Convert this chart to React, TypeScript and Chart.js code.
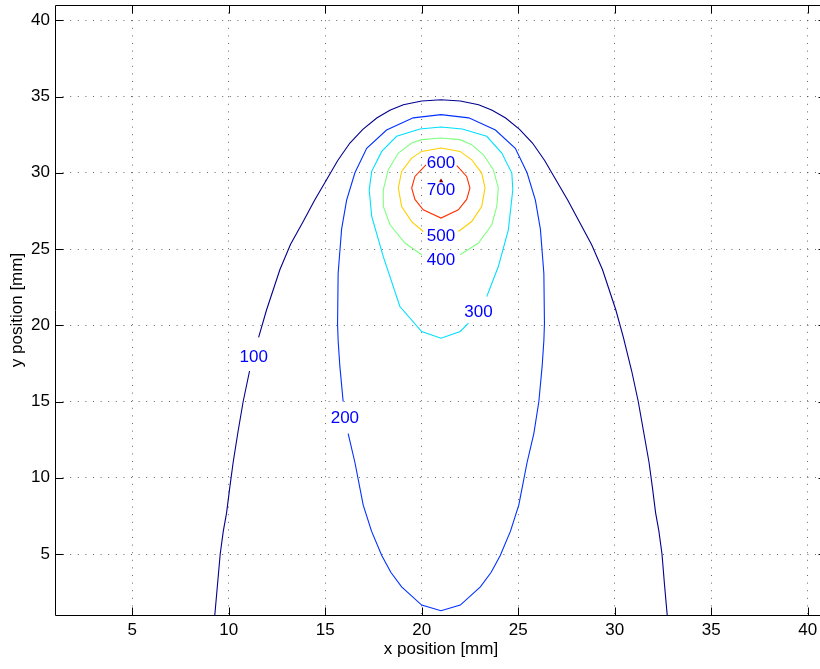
import React, { useEffect, useRef } from 'react';
import { Chart, registerables } from 'chart.js';

Chart.register(...registerables);

// ---- data ----
const contourLevels = [100, 200, 300, 400, 500, 600, 700];

const contour100Left: [number, number][] = [
  [9.28, 1.0], [9.42, 3.0], [9.56, 5.0], [9.72, 6.5], [9.89, 7.7], [10.05, 9.3],
  [10.23, 11.0], [10.48, 13.0], [10.75, 15.0], [11.08, 17.0],
];
const contour100Right: [number, number][] = [
  [11.55, 19.2], [11.96, 21.0], [12.65, 23.64], [13.2, 25.3], [13.86, 26.8], [14.45, 28.2],
  [15.07, 29.54], [15.65, 30.8], [16.28, 31.95], [16.95, 32.85], [17.67, 33.59], [18.35, 34.1],
  [19.05, 34.46], [20.0, 34.7], [21.0, 34.79], [22.0, 34.7], [22.95, 34.46], [23.65, 34.1],
  [24.35, 33.59], [25.07, 32.85], [25.74, 31.95], [26.37, 30.8], [26.95, 29.54], [27.57, 28.2],
  [28.16, 26.8], [28.8, 25.3], [29.37, 23.64], [30.06, 21.0], [30.45, 19.2], [30.88, 17.0],
  [31.22, 15.0], [31.5, 13.0], [31.78, 11.0], [31.96, 9.3], [32.12, 7.7], [32.29, 6.5],
  [32.45, 5.0], [32.58, 3.0], [32.72, 1.0],
];
const contour200: [number, number][] = [
  [16.19, 12.9], [16.54, 11.0], [16.97, 8.2], [17.4, 6.5], [17.93, 4.9], [18.4, 3.8],
  [18.96, 2.85], [20.0, 1.65], [21.0, 1.28], [22.0, 1.65], [23.04, 2.85], [23.6, 3.8],
  [24.07, 4.9], [24.6, 6.5], [25.03, 8.2], [25.46, 11.0], [25.81, 12.9], [26.07, 15.0],
  [26.24, 17.3], [26.33, 19.0], [26.36, 20.1], [26.33, 23.4], [26.15, 26.3], [25.89, 28.2],
  [25.46, 30.0], [24.85, 31.6], [23.82, 32.8], [22.44, 33.6], [21.0, 33.81], [19.56, 33.6],
  [18.18, 32.8], [17.15, 31.6], [16.54, 30.0], [16.11, 28.2], [15.85, 26.3], [15.67, 23.4],
  [15.64, 20.1], [15.67, 19.0], [15.76, 17.3], [15.93, 15.0],
];
const contour300: [number, number][] = [
  [23.37, 21.88], [23.97, 23.85], [24.49, 26.26], [24.72, 28.88], [24.67, 29.98], [24.15, 31.29],
  [23.37, 32.39], [22.1, 32.87], [21.0, 33.0], [19.91, 32.87], [18.7, 32.39], [17.93, 31.4],
  [17.41, 30.09], [17.28, 28.88], [17.41, 27.13], [18.01, 24.5], [18.87, 21.23], [20.0, 19.59],
  [21.0, 19.15], [22.0, 19.59], [22.42, 20.14],
];
const contour400: [number, number][] = [
  [20.0, 24.62], [19.13, 25.39], [18.36, 26.59], [18.01, 27.79], [18.01, 28.88], [18.27, 30.2],
  [18.79, 31.29], [19.48, 31.95], [20.0, 32.17], [21.0, 32.28], [21.99, 32.17], [22.59, 31.84],
  [23.2, 31.18], [23.71, 30.2], [23.97, 29.0], [23.89, 27.79], [23.63, 26.59], [22.94, 25.39],
  [21.99, 24.62],
];
const contour500: [number, number][] = [
  [20.08, 26.15], [19.48, 26.8], [18.96, 27.79], [18.79, 29.0], [18.96, 30.09], [19.48, 30.96],
  [20.0, 31.4], [21.0, 31.62], [21.99, 31.4], [22.59, 30.85], [23.11, 29.98], [23.28, 29.0],
  [23.11, 27.79], [22.59, 26.8], [21.9, 26.15],
];
const contour600: [number, number][] = [
  [20.22, 30.52], [19.65, 29.76], [19.48, 29.0], [19.65, 28.25], [20.08, 27.57], [21.0, 27.03],
  [21.9, 27.57], [22.33, 28.25], [22.5, 29.0], [22.33, 29.76], [21.82, 30.46],
];
const contour700: [number, number][] = [
  [20.93, 29.42], [21.0, 29.56], [21.07, 29.42], [20.93, 29.42],
];

const labelTexts = ['100', '200', '300', '400', '500', '600', '700'];
const labelX = [11.3, 16.02, 22.94, 21.0, 21.0, 21.0, 21.0];
const labelY = [17.9, 13.87, 20.87, 24.24, 25.83, 30.64, 28.83];

const xTicks = [5, 10, 15, 20, 25, 30, 35, 40];
const yTicks = [5, 10, 15, 20, 25, 30, 35, 40];

// ---- styles ----
const levelColors = ['#00008f', '#0030ff', '#00dfff', '#80ff80', '#ffcf00', '#ff3000', '#800000'];
const FONT = '"Liberation Sans", Arial, Helvetica, sans-serif';

const pieces: { pts: [number, number][]; level: number }[] = [
  { pts: contour100Left, level: 100 },
  { pts: contour100Right, level: 100 },
  { pts: contour200, level: 200 },
  { pts: contour300, level: 300 },
  { pts: contour400, level: 400 },
  { pts: contour500, level: 500 },
  { pts: contour600, level: 600 },
  { pts: contour700, level: 700 },
];

const boxPlugin = {
  id: 'matlabBox',
  afterDatasetsDraw(chart: any) {
    const { ctx, chartArea, scales } = chart;
    const { left, right, top, bottom } = chartArea;
    const L = Math.round(left) + 0.5;
    const R = Math.round(right) - 0.5;
    const T = Math.round(top) + 0.5;
    const B = Math.round(bottom) + 0.5;
    ctx.save();
    // contour labels
    ctx.fillStyle = '#0000ff';
    ctx.font = `17px ${FONT}`;
    ctx.textAlign = 'center';
    ctx.textBaseline = 'middle';
    labelTexts.forEach((t, i) => {
      ctx.fillText(t, scales.x.getPixelForValue(labelX[i]), scales.y.getPixelForValue(labelY[i]));
    });
    // box
    ctx.strokeStyle = '#000';
    ctx.lineWidth = 1;
    ctx.beginPath();
    ctx.moveTo(L, B); ctx.lineTo(L, T); ctx.lineTo(R, T); ctx.lineTo(R, B); ctx.lineTo(L, B);
    ctx.stroke();
    // inward ticks
    const tl = 8;
    ctx.beginPath();
    xTicks.forEach((v) => {
      const px = Math.round(scales.x.getPixelForValue(v)) + 0.5;
      ctx.moveTo(px, B); ctx.lineTo(px, B - tl);
      ctx.moveTo(px, T); ctx.lineTo(px, T + tl);
    });
    yTicks.forEach((v) => {
      const py = Math.round(scales.y.getPixelForValue(v)) + 0.5;
      ctx.moveTo(L, py); ctx.lineTo(L + tl, py);
      ctx.moveTo(R, py); ctx.lineTo(R - tl, py);
    });
    ctx.stroke();
    ctx.restore();
  },
};

export default function App() {
  const ref = useRef<HTMLCanvasElement>(null);
  useEffect(() => {
    const canvas = ref.current!;
    const datasets = pieces.map((p) => ({
      label: String(p.level),
      data: p.pts.map(([x, y]) => ({ x, y })),
      showLine: true,
      borderColor: levelColors[contourLevels.indexOf(p.level)],
      borderWidth: 1.1,
      pointRadius: 0,
      pointHoverRadius: 0,
      tension: 0,
      fill: false,
    }));
    const tickFont = { family: FONT, size: 17 };
    const chart = new Chart(canvas, {
      type: 'scatter',
      data: { datasets },
      plugins: [boxPlugin],
      options: {
        animation: false,
        responsive: false,
        maintainAspectRatio: false,
        events: [],
        layout: { padding: { top: 5, right: 13, left: 0, bottom: 0 } },
        plugins: { legend: { display: false }, tooltip: { enabled: false } },
        scales: {
          x: {
            type: 'linear',
            min: 1,
            max: 41,
            afterBuildTicks: (s: any) => { s.ticks = xTicks.map((v) => ({ value: v })); },
            afterFit: (s: any) => {
              s.height = 54;
              s.paddingLeft = 0; s.paddingRight = 0; s.paddingTop = 0; s.paddingBottom = 0;
            },
            grid: { color: 'rgba(0,0,0,0.6)', lineWidth: 1, drawTicks: false },
            border: { display: false, dash: [1, 6.6] },
            ticks: { color: '#000', font: tickFont, padding: 5.4, maxRotation: 0, autoSkip: false },
            title: {
              display: true, text: 'x position [mm]', color: '#000', font: tickFont,
              padding: { top: 0, bottom: 9 },
            },
          },
          y: {
            type: 'linear',
            min: 1,
            max: 41,
            afterBuildTicks: (s: any) => { s.ticks = yTicks.map((v) => ({ value: v })); },
            afterFit: (s: any) => {
              s.width = 55;
              s.paddingLeft = 0; s.paddingRight = 0; s.paddingTop = 0; s.paddingBottom = 0;
            },
            grid: { color: 'rgba(0,0,0,0.6)', lineWidth: 1, drawTicks: false },
            border: { display: false, dash: [1, 6.6] },
            ticks: { color: '#000', font: tickFont, padding: 5, autoSkip: false },
            title: {
              display: true, text: 'y position [mm]', color: '#000', font: tickFont,
              padding: { top: 7, bottom: 0 },
            },
          },
        },
      } as any,
    });
    return () => chart.destroy();
  }, []);
  return (
    <div style={{ position: 'absolute', left: 0, top: 0, width: 820, height: 669, overflow: 'hidden', background: '#fff' }}>
      <canvas ref={ref} width={840} height={669} style={{ display: 'block', width: 840, height: 669 }} />
    </div>
  );
}
